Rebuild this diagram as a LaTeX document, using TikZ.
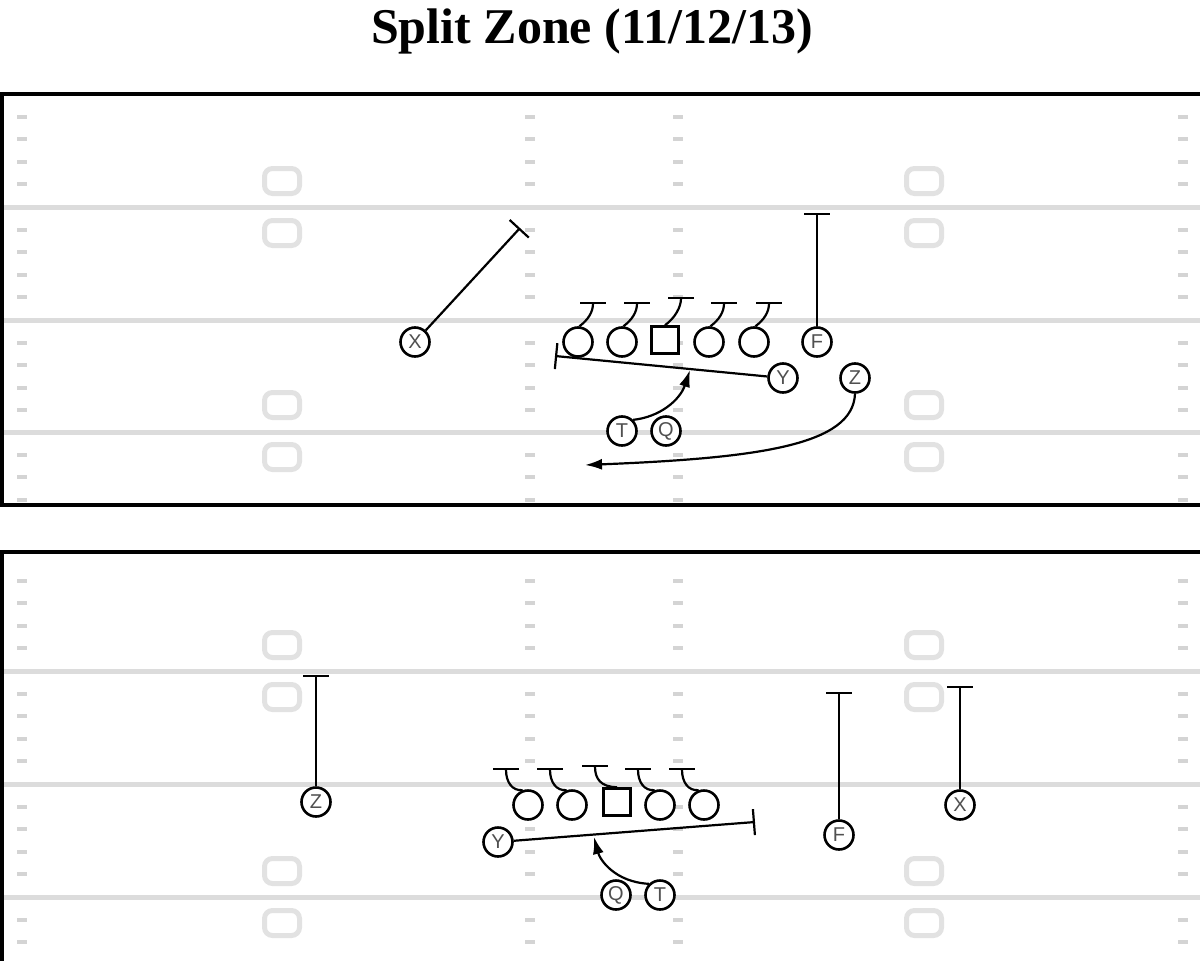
\documentclass[tikz,border=0pt]{standalone}
\usepackage{fontspec}
\setmainfont{Liberation Serif}
\setsansfont{Liberation Sans}
\usetikzlibrary{arrows.meta}
\definecolor{yardgray}{HTML}{DCDCDC}
\definecolor{hashgray}{HTML}{D4D4D4}
\definecolor{numgray}{HTML}{E2E2E2}
\definecolor{lettergray}{HTML}{505050}
\tikzset{
  yardline/.style={yardgray, line width=5pt},
  hashmark/.style={hashgray, line width=4pt},
  numbox/.style={numgray, line width=5pt, rounded corners=8pt},
  fieldborder/.style={black, line width=4.5pt},
  player/.style={circle, draw, line width=2.6pt, minimum size=29pt, inner sep=0pt, font=\sffamily\fontsize{20}{20}\selectfont, text=lettergray, fill=white},
  lineman/.style={circle, draw, line width=2.6pt, minimum size=29pt, inner sep=0pt, fill=white},
  centerbox/.style={rectangle, draw, line width=2.6pt, minimum size=27pt, inner sep=0pt, fill=white},
  route/.style={line width=2.2pt},
  blockend/.style={route, -{Bar[width=26pt,line width=2.2pt]}},
  arrowend/.style={route, -{Latex[length=17pt,width=11pt]}},
}
\begin{document}
\begin{tikzpicture}[x=1pt,y=-1pt]
\useasboundingbox (0,0) rectangle (1200,961);
\clip (0,0) rectangle (1200,961);
% title
\node[font=\bfseries\fontsize{50}{60}\selectfont] (title) at (592,31) {Split Zone (11/12/13)};

% ---------- field markings ----------
% field 1
\begin{scope}
\clip (2,94) rectangle (1215,505);
\foreach \yl in {207,320,432} {\draw[yardline] (0,\yl) -- (1200,\yl);}
\foreach \yl in {94,207,320,432} {
  \foreach \k in {1,2,3,4} {
    \foreach \xh in {22,530,678,1183} {
      \draw[hashmark] ({\xh-5},{\yl+22.6*\k}) -- ({\xh+5},{\yl+22.6*\k});
    }
  }
}
\foreach \yc in {181,233,405,457} {
  \foreach \xc in {282,924} {
    \draw[numbox] ({\xc-17.5},{\yc-12.5}) rectangle ({\xc+17.5},{\yc+12.5});
  }
}
\end{scope}
% field 2
\begin{scope}
\clip (2,552) rectangle (1215,990);
\foreach \yl in {671,784,897} {\draw[yardline] (0,\yl) -- (1200,\yl);}
\foreach \yl in {558,671,784,897} {
  \foreach \k in {1,2,3,4} {
    \foreach \xh in {22,530,678,1183} {
      \draw[hashmark] ({\xh-5},{\yl+22.6*\k}) -- ({\xh+5},{\yl+22.6*\k});
    }
  }
}
\foreach \yc in {645,697,871,923} {
  \foreach \xc in {282,924} {
    \draw[numbox] ({\xc-17.5},{\yc-12.5}) rectangle ({\xc+17.5},{\yc+12.5});
  }
}
\end{scope}
% borders
\draw[fieldborder] (2,94) rectangle (1215,505);
\draw[fieldborder] (2,552) rectangle (1215,990);

% ---------- play 1 ----------
\node[player] (x1) at (415,342) {X};
\node[lineman] (lt1) at (578,342) {};
\node[lineman] (lg1) at (622,342) {};
\node[centerbox] (c1) at (665,340) {};
\node[lineman] (rg1) at (709,342) {};
\node[lineman] (rt1) at (754,342) {};
\node[player] (f1) at (817,342) {F};
\node[player] (y1) at (783,378) {Y};
\node[player] (z1) at (855,378) {Z};
\node[player] (t1) at (622,431) {T};
\node[player] (q1) at (666,431) {Q};

\coordinate (x1e) at (520,228);
\coordinate (f1e) at (817,213);
\coordinate (y1e) at (555,356);
\coordinate (t1e) at (690,370);
\coordinate (z1e) at (585,465);
\coordinate (b11) at (593,302);
\coordinate (b12) at (637,302);
\coordinate (b13) at (681,297);
\coordinate (b14) at (724,302);
\coordinate (b15) at (769,302);

\draw[blockend] (x1) -- (x1e);
\draw[blockend] (f1) -- (f1e);
\draw[blockend] (y1) -- (y1e);
\draw[blockend] (lt1.85) .. controls (588,320) and (593,312) .. (b11);
\draw[blockend] (lg1.85) .. controls (632,320) and (637,312) .. (b12);
\draw[blockend] (c1.north) .. controls (675,318) and (681,307) .. (b13);
\draw[blockend] (rg1.85) .. controls (719,320) and (724,312) .. (b14);
\draw[blockend] (rt1.85) .. controls (764,320) and (769,312) .. (b15);
\draw[arrowend] (t1.45) .. controls (660,417) and (680,400) .. (t1e);
\draw[arrowend] (z1.south) .. controls (853,445) and (760,458) .. (z1e);

% ---------- play 2 ----------
\node[player] (z2) at (316,802) {Z};
\node[lineman] (lt2) at (528,805) {};
\node[lineman] (lg2) at (572,805) {};
\node[centerbox] (c2) at (617,802) {};
\node[lineman] (rg2) at (660,805) {};
\node[lineman] (rt2) at (704,805) {};
\node[player] (y2) at (498,842) {Y};
\node[player] (q2) at (616,895) {Q};
\node[player] (t2) at (660,895) {T};
\node[player] (f2) at (839,835) {F};
\node[player] (x2) at (960,805) {X};

\coordinate (z2e) at (316,675);
\coordinate (f2e) at (839,692);
\coordinate (x2e) at (960,686);
\coordinate (y2e) at (755,822);
\coordinate (t2e) at (594,837);
\coordinate (b21) at (506,768);
\coordinate (b22) at (550,768);
\coordinate (b23) at (595,765);
\coordinate (b24) at (638,768);
\coordinate (b25) at (682,768);

\draw[blockend] (z2) -- (z2e);
\draw[blockend] (f2) -- (f2e);
\draw[blockend] (x2) -- (x2e);
\draw[blockend] (y2) -- (y2e);
\draw[blockend] (lt2.110) .. controls (512,791) and (506,782) .. (b21);
\draw[blockend] (lg2.110) .. controls (556,791) and (550,782) .. (b22);
\draw[blockend] (c2.north) .. controls (601,787) and (595,779) .. (b23);
\draw[blockend] (rg2.110) .. controls (644,791) and (638,782) .. (b24);
\draw[blockend] (rt2.110) .. controls (688,791) and (682,782) .. (b25);
\draw[arrowend] (t2.135) .. controls (615,882) and (600,860) .. (t2e);
\end{tikzpicture}
\end{document}
